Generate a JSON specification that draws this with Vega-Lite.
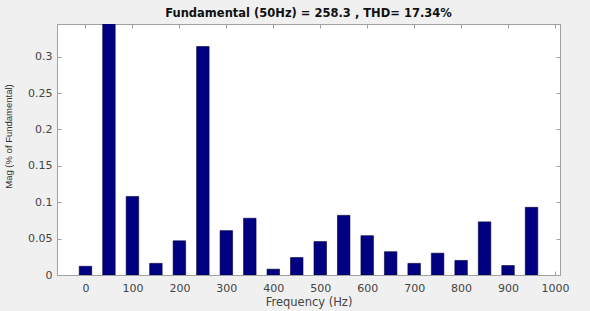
{
  "$schema": "https://vega.github.io/schema/vega-lite/v6.json",
  "width": 503,
  "height": 251,
  "autosize": "none",
  "padding": {"left": 57, "top": 24, "right": 30, "bottom": 36},
  "background": "#f0f0f0",
  "view": {"fill": "#ffffff", "stroke": "#a0a0a0", "strokeWidth": 1},
  "title": {
    "text": "Fundamental (50Hz) = 258.3 , THD= 17.34%",
    "font": "DejaVu Sans",
    "fontSize": 11.5,
    "fontWeight": "bold",
    "color": "#111111",
    "anchor": "middle",
    "offset": 4
  },
  "data": {
    "values": [
      {"freq": 0, "mag": 0.012},
      {"freq": 50, "mag": 1.0},
      {"freq": 100, "mag": 0.108},
      {"freq": 150, "mag": 0.016},
      {"freq": 200, "mag": 0.047},
      {"freq": 250, "mag": 0.314},
      {"freq": 300, "mag": 0.061},
      {"freq": 350, "mag": 0.078},
      {"freq": 400, "mag": 0.008},
      {"freq": 450, "mag": 0.024},
      {"freq": 500, "mag": 0.046},
      {"freq": 550, "mag": 0.082},
      {"freq": 600, "mag": 0.054},
      {"freq": 650, "mag": 0.032},
      {"freq": 700, "mag": 0.016},
      {"freq": 750, "mag": 0.030},
      {"freq": 800, "mag": 0.020},
      {"freq": 850, "mag": 0.073},
      {"freq": 900, "mag": 0.013},
      {"freq": 950, "mag": 0.093}
    ]
  },
  "config": {
    "axis": {
      "domainColor": "#a0a0a0",
      "tickColor": "#a0a0a0",
      "labelColor": "#444444",
      "titleColor": "#444444",
      "labelFont": "DejaVu Sans",
      "labelFontSize": 11,
      "titleFont": "DejaVu Sans",
      "titleFontWeight": "normal",
      "grid": false,
      "tickSize": -4
    }
  },
  "resolve": {"axis": {"x": "independent", "y": "independent"}},
  "layer": [
    {
      "mark": {"type": "bar", "size": 12.5, "clip": true, "color": "#000080", "stroke": "#00003a", "strokeWidth": 0.6},
      "encoding": {
        "x": {
          "field": "freq", "type": "quantitative",
          "scale": {"domain": [-50, 1000], "nice": false, "zero": false},
          "axis": {
            "values": [0, 100, 200, 300, 400, 500, 600, 700, 800, 900, 1000],
            "format": "d",
            "title": "Frequency (Hz)", "titleFontSize": 11.5, "titlePadding": 3,
            "labelPadding": 11, "labelFlush": false
          }
        },
        "y": {
          "field": "mag", "type": "quantitative",
          "scale": {"domain": [0, 0.345], "nice": false},
          "axis": {
            "values": [0, 0.05, 0.1, 0.15, 0.2, 0.25, 0.3],
            "format": "~g",
            "title": "Mag (% of Fundamental)", "titleFontSize": 9.5, "titleFont": "Liberation Sans",
            "titleColor": "#333333",
            "labelPadding": 9, "titleX": -44, "titleY": 112,
            "labelFlush": false
          }
        }
      }
    },
    {
      "mark": {"type": "bar", "size": 12.5, "opacity": 0, "clip": true},
      "encoding": {
        "x": {
          "field": "freq", "type": "quantitative",
          "scale": {"domain": [-50, 1000], "nice": false, "zero": false},
          "axis": {
            "orient": "top", "values": [0, 100, 200, 300, 400, 500, 600, 700, 800, 900, 1000],
            "labels": false, "title": null
          }
        },
        "y": {
          "field": "mag", "type": "quantitative",
          "scale": {"domain": [0, 0.345], "nice": false},
          "axis": {
            "orient": "right", "values": [0, 0.05, 0.1, 0.15, 0.2, 0.25, 0.3],
            "labels": false, "title": null
          }
        }
      }
    }
  ]
}
